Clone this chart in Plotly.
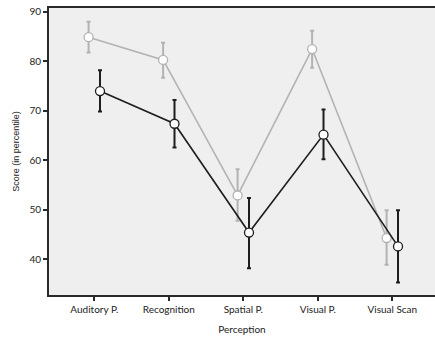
import plotly.graph_objects as go

categories = ["Auditory P.", "Recognition", "Spatial P.", "Visual P.", "Visual Scan"]
grey_mean = [84.9, 80.3, 52.9, 82.5, 44.3]
grey_upper = [88.0, 83.8, 58.2, 86.2, 49.9]
grey_lower = [81.8, 76.7, 47.8, 78.7, 38.9]
black_mean = [74.0, 67.4, 45.4, 65.2, 42.6]
black_upper = [78.2, 72.2, 52.4, 70.3, 49.9]
black_lower = [69.9, 62.6, 38.2, 60.2, 35.3]

dodge = 0.0765
idx = list(range(len(categories)))

def series(means, up, lo, off, color):
    x = [i + off for i in idx]
    return go.Scatter(
        x=x, y=means, mode="lines+markers",
        line=dict(color=color, width=1.6),
        marker=dict(size=9, color="white", line=dict(color=color, width=1.3)),
        error_y=dict(type="data", symmetric=False,
                     array=[u - m for u, m in zip(up, means)],
                     arrayminus=[m - l for m, l in zip(means, lo)],
                     color=color, thickness=2, width=2),
        showlegend=False, hoverinfo="skip")

fig = go.Figure()
fig.add_trace(series(grey_mean, grey_upper, grey_lower, -dodge, "#b3b3b3"))
fig.add_trace(series(black_mean, black_upper, black_lower, dodge, "#1e1e1e"))

font_family = "Lato, Liberation Sans, Arial, sans-serif"
fig.update_layout(
    width=435, height=340,
    margin=dict(l=49, r=0, t=8, b=45),
    paper_bgcolor="white", plot_bgcolor="#efefef",
    font=dict(family=font_family, size=10, color="#222"),
    xaxis=dict(range=[-0.608, 4.573], tickmode="array", tickvals=idx, ticktext=categories,
               showgrid=False, zeroline=False, showline=True, linecolor="#2a2a2a", linewidth=2,
               mirror=True, ticks="outside", ticklen=4, tickwidth=1.5, tickcolor="#2a2a2a",
               tickfont=dict(size=10),
               title=dict(text="Perception", font=dict(size=10), standoff=12)),
    yaxis=dict(range=[32.78, 90.8], tickvals=[40, 50, 60, 70, 80, 90],
               showgrid=False, zeroline=False, showline=True, linecolor="#2a2a2a", linewidth=2,
               ticks="outside", ticklen=4, tickwidth=1.5, tickcolor="#2a2a2a",
               tickfont=dict(size=10),
               title=dict(text="Score (in percentile)", font=dict(size=9, family="Liberation Sans, Arial, sans-serif"), standoff=8)),
)
fig.write_html("out.html")
